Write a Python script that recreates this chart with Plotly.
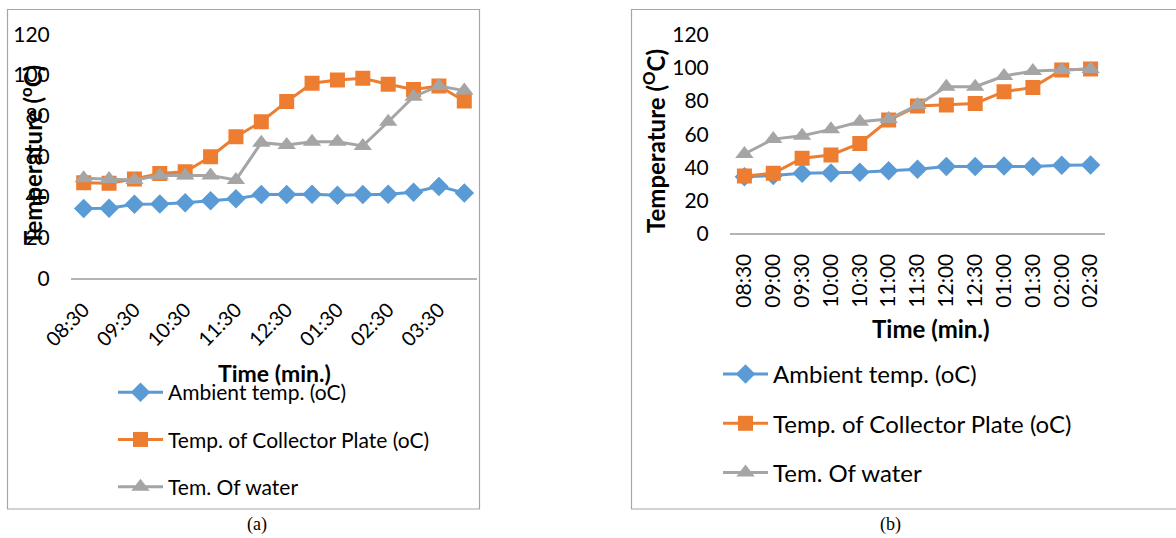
import plotly.graph_objects as go

W, H = 1176, 538

# ---------------- data ----------------
times_a = ["08:30", "09:00", "09:30", "10:00", "10:30", "11:00", "11:30", "12:00",
           "12:30", "01:00", "01:30", "02:00", "02:30", "03:00", "03:30", "04:00"]
ticks_a = ["08:30", "09:30", "10:30", "11:30", "12:30", "01:30", "02:30", "03:30"]
ambient_a = [34.3, 34.5, 36.4, 36.5, 37.1, 38.2, 39.1, 41.2, 41.2, 41.3, 40.8, 41.2, 41.3, 42.3, 45.2, 42.0]
plate_a = [47.0, 46.7, 48.8, 51.6, 52.4, 59.8, 69.6, 77.0, 86.9, 95.9, 97.5, 98.4, 95.4, 92.9, 94.6, 87.2]
water_a = [49.2, 48.8, 48.4, 50.5, 50.5, 50.5, 48.4, 66.7, 65.6, 67.2, 67.2, 65.1, 77.0, 89.3, 94.6, 92.3]

times_b = ["08:30", "09:00", "09:30", "10:00", "10:30", "11:00", "11:30",
           "12:00", "12:30", "01:00", "01:30", "02:00", "02:30"]
ambient_b = [34.2, 35.0, 36.4, 36.5, 37.0, 37.9, 38.8, 40.4, 40.4, 40.8, 40.4, 41.2, 41.3]
plate_b = [34.7, 36.3, 45.4, 47.4, 54.4, 68.5, 77.0, 77.6, 78.6, 85.7, 88.3, 98.8, 99.4]
water_b = [48.0, 57.0, 59.0, 62.9, 67.5, 69.1, 77.6, 88.7, 88.7, 95.2, 98.2, 98.8, 99.4]

y_ticks = [0, 20, 40, 60, 80, 100, 120]
names = ["Ambient temp. (oC)", "Temp. of Collector Plate (oC)", "Tem. Of water"]
colors = ["#5B9BD5", "#ED7D31", "#A5A5A5"]
symbols = ["diamond", "square", "triangle-up"]
sizes = [15, 15, 16]


def px(x):
    return x / W


def py(y):
    return 1 - y / H


FONT = "Lato, 'Open Sans', sans-serif"

fig = go.Figure()

series_a = [ambient_a, plate_a, water_a]
series_b = [ambient_b, plate_b, water_b]

for i in range(3):
    fig.add_trace(go.Scatter(
        x=times_a, y=series_a[i], name=names[i], mode="lines+markers",
        line=dict(color=colors[i], width=3),
        marker=dict(symbol=symbols[i], size=sizes[i], color=colors[i]),
        xaxis="x", yaxis="y", legend="legend", legendgroup="a%d" % i,
    ))
for i in range(3):
    fig.add_trace(go.Scatter(
        x=times_b, y=series_b[i], name=names[i], mode="lines+markers",
        line=dict(color=colors[i], width=3),
        marker=dict(symbol=symbols[i], size=sizes[i], color=colors[i]),
        xaxis="x2", yaxis="y2", legend="legend2", legendgroup="b%d" % i,
    ))

axis_line = "#B4B4B4"

fig.update_layout(
    width=W, height=H,
    margin=dict(l=0, r=0, t=0, b=0, autoexpand=False),
    paper_bgcolor="white", plot_bgcolor="white",
    font=dict(family=FONT, color="black"),
    xaxis=dict(
        domain=[px(71), px(477)], anchor="y", type="category",
        categoryorder="array", categoryarray=times_a,
        range=[-0.5, len(times_a) - 0.5],
        tickmode="array", tickvals=ticks_a, ticktext=ticks_a,
        tickangle=-45, tickfont=dict(size=20, family=FONT),
        showline=True, linecolor=axis_line, linewidth=2,
        showgrid=False, zeroline=False, automargin=False,
        ticks="outside", ticklen=10, tickcolor="rgba(0,0,0,0)",
    ),
    yaxis=dict(
        domain=[py(278.3), py(34.3)], anchor="x",
        range=[0, 120], tickmode="array", tickvals=y_ticks,
        tickfont=dict(size=21, family=FONT),
        showline=False, showgrid=False, zeroline=False, automargin=False,
        ticks="outside", ticklen=16, tickcolor="rgba(0,0,0,0)",
    ),
    xaxis2=dict(
        domain=[px(730), px(1105)], anchor="y2", type="category",
        categoryorder="array", categoryarray=times_b,
        range=[-0.5, len(times_b) - 0.5],
        tickmode="array", tickvals=times_b, ticktext=times_b,
        tickangle=-90, tickfont=dict(size=21, family=FONT),
        showline=True, linecolor=axis_line, linewidth=2,
        showgrid=False, zeroline=False, automargin=False,
        ticks="outside", ticklen=10, tickcolor="rgba(0,0,0,0)",
    ),
    yaxis2=dict(
        domain=[py(233.3), py(35)], anchor="x2",
        range=[0, 120], tickmode="array", tickvals=y_ticks,
        tickfont=dict(size=21, family=FONT),
        showline=False, showgrid=False, zeroline=False, automargin=False,
        ticks="outside", ticklen=16, tickcolor="rgba(0,0,0,0)",
    ),
    legend=dict(
        x=px(113), y=py(372), xanchor="left", yanchor="top",
        font=dict(size=21, family=FONT), bgcolor="rgba(0,0,0,0)",
        tracegroupgap=17, traceorder="grouped", itemwidth=45,
    ),
    legend2=dict(
        x=px(718), y=py(352), xanchor="left", yanchor="top",
        font=dict(size=24, family=FONT), bgcolor="rgba(0,0,0,0)",
        tracegroupgap=15, traceorder="grouped", itemwidth=45,
    ),
    shapes=[
        dict(type="rect", xref="paper", yref="paper",
             x0=px(7.5), x1=px(479.5), y0=py(509), y1=py(9.5),
             line=dict(color="#A6A6A6", width=1.2), fillcolor="rgba(0,0,0,0)", layer="below"),
        dict(type="rect", xref="paper", yref="paper",
             x0=px(631.5), x1=px(1180), y0=py(509), y1=py(9.5),
             line=dict(color="#A6A6A6", width=1.2), fillcolor="rgba(0,0,0,0)", layer="below"),
    ],
    annotations=[
        dict(text="<b>Temperature (<sup>o</sup>C)</b>", x=px(31), y=py(155), xref="paper", yref="paper",
             textangle=-90, showarrow=False, font=dict(size=24, family=FONT),
             xanchor="center", yanchor="middle"),
        dict(text="<b>Temperature (<sup>O</sup>C)</b>", x=px(654), y=py(141), xref="paper", yref="paper",
             textangle=-90, showarrow=False, font=dict(size=24, family=FONT),
             xanchor="center", yanchor="middle"),
        dict(text="<b>Time (min.)</b>", x=px(274), y=py(373), xref="paper", yref="paper",
             showarrow=False, font=dict(size=23, family=FONT),
             xanchor="center", yanchor="middle"),
        dict(text="<b>Time (min.)</b>", x=px(931), y=py(328), xref="paper", yref="paper",
             showarrow=False, font=dict(size=24, family=FONT),
             xanchor="center", yanchor="middle"),
        dict(text="(a)", x=px(257), y=py(524), xref="paper", yref="paper",
             showarrow=False, font=dict(size=18, family="'Liberation Serif', serif"),
             xanchor="center", yanchor="middle"),
        dict(text="(b)", x=px(890), y=py(524), xref="paper", yref="paper",
             showarrow=False, font=dict(size=18, family="'Liberation Serif', serif"),
             xanchor="center", yanchor="middle"),
    ],
)

fig.write_html("out.html")
